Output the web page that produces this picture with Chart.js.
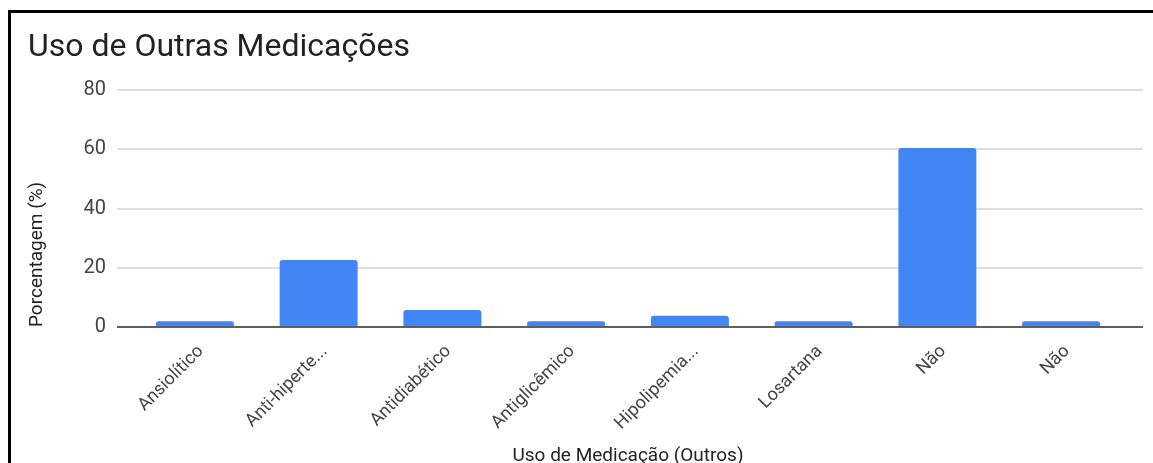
<!DOCTYPE html>
<html lang="pt">

<head>
    <meta charset="UTF-8">
    <title>Uso de Outras Medicações</title>
    <script src="https://cdn.jsdelivr.net/npm/chart.js"></script>
    <style>
        html, body {
            margin: 0;
            padding: 0;
            background: #fff;
            overflow: hidden;
        }

        #chart {
            position: absolute;
            left: 0;
            top: 0;
        }

        /* black frame of the screenshot (left and top edges only visible) */
        .frame {
            position: absolute;
            left: 8px;
            top: 10px;
            width: 2000px;
            height: 1000px;
            border-left: 3px solid #000;
            border-top: 3px solid #000;
            pointer-events: none;
        }
    </style>
</head>

<body>
    <canvas id="chart" width="1153" height="463"></canvas>
    <div class="frame"></div>

    <script>
        // data
        const categories = ['Ansiolítico', 'Anti-hiperte...', 'Antidiabético', 'Antiglicêmico', 'Hipolipemia...', 'Losartana', 'Não', 'Não'];
        const percentages = [1.9, 22.6, 5.7, 1.9, 3.8, 1.9, 60.4, 1.9];
        const yTicks = [0, 20, 40, 60, 80];

        const FONT = 'Roboto, "Noto Sans", sans-serif';
        const gridColor = ctx => (ctx.tick && ctx.tick.value === 0) ? '#5f5f5f' : '#dedede';

        new Chart(document.getElementById('chart'), {
            type: 'bar',
            data: {
                labels: categories,
                datasets: [{
                    label: 'Porcentagem (%)',
                    data: percentages,
                    backgroundColor: '#4285f4',
                    borderRadius: 3,
                    barPercentage: 0.63,
                    categoryPercentage: 1
                }]
            },
            options: {
                responsive: false,
                animation: false,
                layout: {
                    padding: { left: 28, top: 0, right: 0, bottom: 0 }
                },
                plugins: {
                    legend: { display: false },
                    tooltip: { enabled: false },
                    title: {
                        display: true,
                        text: 'Uso de Outras Medicações',
                        align: 'start',
                        color: '#222',
                        font: { family: FONT, size: 32, weight: 'normal' },
                        padding: { top: 29, bottom: 22.6 }
                    }
                },
                scales: {
                    x: {
                        grid: { display: false },
                        border: { display: false },
                        ticks: {
                            autoSkip: false,
                            minRotation: 45,
                            maxRotation: 45,
                            padding: 6,
                            labelOffset: 6,
                            color: '#444',
                            font: { family: FONT, size: 18 }
                        },
                        title: {
                            display: true,
                            text: 'Uso de Medicação (Outros)',
                            color: '#222',
                            font: { family: FONT, size: 19, lineHeight: 1 },
                            padding: { top: 0, bottom: -3 }
                        },
                        afterFit: scale => { scale.height = 136; }
                    },
                    y: {
                        min: yTicks[0],
                        max: yTicks[yTicks.length - 1],
                        afterBuildTicks: scale => { scale.ticks = yTicks.map(v => ({ value: v })); },
                        grid: {
                            color: gridColor,
                            lineWidth: 2,
                            tickLength: 16
                        },
                        border: { display: false },
                        ticks: {
                            padding: 11,
                            color: '#444',
                            font: { family: FONT, size: 20 }
                        },
                        title: {
                            display: true,
                            text: 'Porcentagem (%)',
                            align: 'start',
                            color: '#222',
                            font: { family: FONT, size: 19, lineHeight: 1 },
                            padding: { top: 0, bottom: 0 }
                        },
                        afterFit: scale => { scale.width = 105; }
                    },
                    // right-hand axis only used to carry the gridlines past the last bar
                    y2: {
                        position: 'right',
                        min: yTicks[0],
                        max: yTicks[yTicks.length - 1],
                        afterBuildTicks: scale => { scale.ticks = yTicks.map(v => ({ value: v })); },
                        grid: {
                            color: gridColor,
                            lineWidth: 2,
                            tickLength: 20,
                            drawOnChartArea: false
                        },
                        border: { display: false },
                        ticks: { display: false },
                        afterFit: scale => { scale.width = 30; }
                    }
                }
            }
        });
    </script>
</body>

</html>
